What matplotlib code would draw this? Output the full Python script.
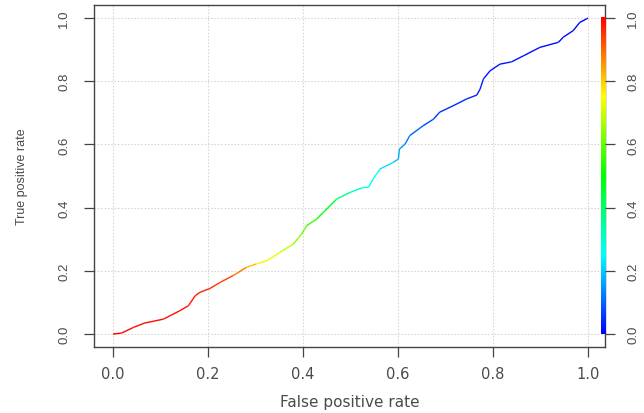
import numpy as np
import matplotlib
matplotlib.use("Agg")
import matplotlib.pyplot as plt
from matplotlib.collections import LineCollection
from matplotlib.colors import hsv_to_rgb

plt.rcParams['font.family'] = ['Liberation Sans', 'DejaVu Sans']

# ROC curve points
fpr = [0.000, 0.018, 0.043, 0.067, 0.106, 0.141, 0.159, 0.173, 0.183, 0.204,
       0.225, 0.253, 0.281, 0.302, 0.324, 0.352, 0.380, 0.397, 0.408, 0.429,
       0.443, 0.471, 0.499, 0.527, 0.538, 0.548, 0.562, 0.590, 0.601, 0.603,
       0.615, 0.625, 0.653, 0.675, 0.688, 0.716, 0.745, 0.766, 0.773, 0.780,
       0.794, 0.815, 0.839, 0.864, 0.899, 0.938, 0.948, 0.969, 0.983, 0.997,
       1.000]
tpr = [0.000, 0.003, 0.021, 0.035, 0.047, 0.074, 0.090, 0.121, 0.132, 0.144,
       0.163, 0.185, 0.211, 0.222, 0.232, 0.259, 0.285, 0.316, 0.343, 0.364,
       0.385, 0.427, 0.448, 0.464, 0.464, 0.491, 0.522, 0.543, 0.554, 0.585,
       0.601, 0.628, 0.659, 0.680, 0.702, 0.722, 0.744, 0.756, 0.775, 0.807,
       0.833, 0.854, 0.861, 0.880, 0.907, 0.923, 0.939, 0.960, 0.986, 0.997,
       1.000]
# cutoff values (drive the colour) estimated from the curve colours
cutoff = [1.00, 1.00, 0.99, 0.99, 0.99, 0.98, 0.98, 0.97, 0.97, 0.96,
          0.95, 0.92, 0.85, 0.78, 0.75, 0.71, 0.66, 0.62, 0.58, 0.53,
          0.50, 0.42, 0.33, 0.28, 0.27, 0.26, 0.24, 0.20, 0.17, 0.16,
          0.13, 0.11, 0.08, 0.06, 0.05, 0.04, 0.04, 0.03, 0.03, 0.03,
          0.02, 0.02, 0.02, 0.02, 0.01, 0.01, 0.01, 0.01, 0.00, 0.00,
          0.00]

ticks = [0.0, 0.2, 0.4, 0.6, 0.8, 1.0]
tick_labels = ["0.0", "0.2", "0.4", "0.6", "0.8", "1.0"]


def rainbow(c):
    c = np.asarray(c, dtype=float)
    h = (1.0 - c) * 4.0 / 6.0
    hsv = np.stack([h, np.ones_like(h), np.ones_like(h)], axis=-1)
    return hsv_to_rgb(hsv)


fig = plt.figure(figsize=(6.44, 4.14), dpi=100)
ax = fig.add_axes([94 / 644, 66 / 414, 511 / 644, 342 / 414])

text_col = '#4a4a4a'
for v in ticks:
    ax.axvline(v, color='#d8d8d8', lw=0.8, ls=(0, (1.5, 1.5)), zorder=0)
    ax.axhline(v, color='#d8d8d8', lw=0.8, ls=(0, (1.5, 1.5)), zorder=0)

pts = np.column_stack([fpr, tpr])
segs = np.stack([pts[:-1], pts[1:]], axis=1)
cmid = (np.array(cutoff[:-1]) + np.array(cutoff[1:])) / 2
lc = LineCollection(segs, colors=rainbow(cmid), linewidths=1.0, zorder=3)
ax.add_collection(lc)

# colour bar along the right edge
grad = np.linspace(0, 1, 256)[:, None]
img = rainbow(grad)
ax.imshow(img, extent=[1.027, 1.036, 0, 1], origin='lower', aspect='auto',
          zorder=4, interpolation='bilinear')
ax.set_xlim(-0.04, 1.036)
ax.set_ylim(-0.041, 1.041)

for s in ax.spines.values():
    s.set_color('#444444')
    s.set_linewidth(1.0)

ax.set_xticks(ticks)
ax.set_xticklabels(tick_labels, fontsize=10.5, color=text_col, family='DejaVu Sans')
ax.set_yticks(ticks)
ax.set_yticklabels(tick_labels, fontsize=9.5, color=text_col, rotation=90, va='center')
ax.tick_params(direction='out', length=7, width=0.9, color='#444444')
ax.tick_params(axis='x', pad=7)
ax.tick_params(axis='y', pad=10)

ax2 = ax.twinx()
ax2.set_ylim(ax.get_ylim())
ax2.set_yticks(ticks)
ax2.set_yticklabels(tick_labels, fontsize=9.5, color=text_col, rotation=90, va='center')
ax2.tick_params(direction='out', length=7, width=0.9, color='#444444', pad=9)
for s in ax2.spines.values():
    s.set_visible(False)

ax.set_xlabel("False positive rate", fontsize=11, color=text_col, labelpad=9,
              family='DejaVu Sans')
ax.set_ylabel("True positive rate", fontsize=9, color=text_col, labelpad=22)

fig.savefig("out.png", dpi=100)
